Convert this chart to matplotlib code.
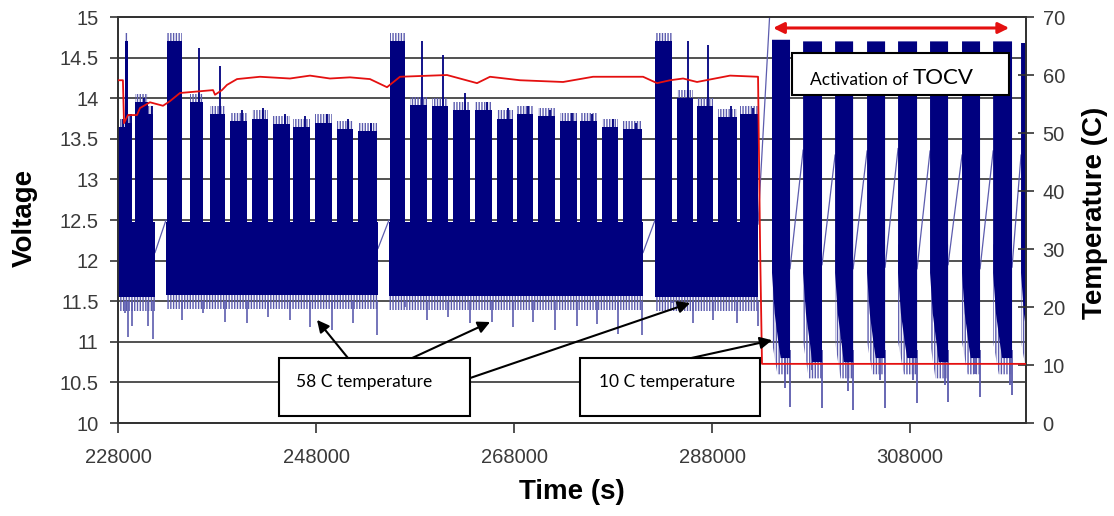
import numpy as np
import matplotlib
matplotlib.use('Agg')
import matplotlib.pyplot as plt
from matplotlib.patches import Rectangle
from matplotlib.ticker import FuncFormatter

plt.rcParams['font.family'] = ['Liberation Sans', 'DejaVu Sans']
plt.rcParams['hatch.linewidth'] = 1.0

# ---- 58 C part: logged sections (s) and the dense cycling band (V)
sec_start = [228000, 232850, 255370, 282240]
sec_end = [231740, 254260, 281030, 292640]
band_lo = [11.55, 11.58, 11.56, 11.55]
band_hi = [12.47, 12.47, 12.47, 12.47]

# charge "teeth" on top of the band
tooth_t0 = [228000, 228710, 229010, 229720, 231030,
            232950, 235270, 237290, 239310, 241530, 243660, 245680, 247900, 250120, 252240,
            255470, 257490, 259710, 261840, 264060, 266280, 268300, 270420, 272640, 274660, 276880, 279010,
            282240, 284460, 286480, 288600, 290820]
tooth_t1 = [228710, 229010, 229410, 231030, 231540,
            234460, 236590, 238810, 241030, 243150, 245370, 247390, 249610, 251740, 254160,
            256990, 259210, 261330, 263550, 265770, 267900, 269920, 272140, 274360, 276380, 278500, 280920,
            283950, 286080, 288100, 290520, 292640]
tooth_top = [13.65, 14.7, 13.7, 13.95, 13.8,
             14.7, 13.95, 13.8, 13.72, 13.75, 13.68, 13.65, 13.7, 13.62, 13.6,
             14.7, 13.92, 13.9, 13.85, 13.85, 13.75, 13.8, 13.78, 13.72, 13.72, 13.65, 13.62,
             14.7, 14.0, 13.9, 13.77, 13.8]
tooth_peak = [13.75, 14.7, 13.8, 14.0, 13.9,
              14.7, 14.62, 14.4, 13.85, 13.88, 13.8, 13.78, 13.8, 13.75, 13.7,
              14.7, 14.7, 14.53, 14.06, 13.95, 13.88, 13.9, 13.86, 13.82, 13.8, 13.75, 13.7,
              14.7, 14.7, 14.66, 13.9, 13.88]
tooth_low = [11.35, 11.06, 11.2, 11.2, 11.04,
             11.27, 11.35, 11.24, 11.23, 11.3, 11.27, 11.18, 11.15, 11.23, 11.08,
             11.43, 11.27, 11.3, 11.23, 11.25, 11.18, 11.24, 11.15, 11.2, 11.22, 11.1, 11.08,
             11.48, 11.23, 11.27, 11.23, 11.2]

# straight lines across logging gaps
gap_t0 = [231740, 254260, 281030, 292640]
gap_v0 = [12.1, 12.15, 12.1, 12.45]
gap_t1 = [232850, 255370, 282240, 293850]
gap_v1 = [12.5, 12.5, 12.5, 15.1]

# ---- 10 C part: TOCV cycles
cold_t0 = [294050, 297190, 300420, 303650, 306780, 310010, 313240, 316380, 319200]
cold_t1 = [295870, 299100, 302240, 305470, 308700, 311830, 315060, 318290, 321120]
cold_top = [14.72, 14.7, 14.7, 14.7, 14.7, 14.7, 14.7, 14.7, 14.68]
cold_floor = [10.8, 10.75, 10.75, 10.8, 10.8, 10.75, 10.8, 10.8, 10.8]
cold_spike_t = [295370, 295870, 298090, 299100, 301730, 302240, 304960, 305470,
                308290, 308700, 311530, 311830, 314560, 315060, 318090, 318290]
cold_spike_v = [10.43, 10.2, 10.65, 10.18, 10.4, 10.16, 10.53, 10.18,
                10.53, 10.25, 10.47, 10.26, 10.6, 10.32, 10.47, 10.34]
cold_ramp_lo = [11.9, 11.95, 11.9, 11.92, 11.9, 11.95, 11.9, 11.92]
cold_ramp_hi = [13.36, 13.3, 13.35, 13.38, 13.35, 13.3, 13.35, 13.3]

# ---- temperature (C)
temp_t = [228000, 228500, 228610, 229010, 229920, 230220, 231230, 232550, 233250, 234260,
          237600, 237800, 238500, 239010, 240020, 242340, 245370, 247390, 249410, 251430,
          253450, 255170, 256480, 261230, 264260, 265570, 268600, 272950, 275980, 281030,
          282440, 283750, 285070, 286480, 289810, 292640, 292850, 293040, 319700]
temp_v = [59.1, 59.1, 51.7, 53.1, 53.1, 54.3, 55.3, 54.7, 55.5, 56.9,
          57.4, 56.6, 57.4, 58.3, 59.3, 59.7, 59.4, 59.9, 59.4, 59.6,
          59.3, 57.9, 59.7, 60.0, 58.6, 59.7, 59.1, 58.8, 59.7, 59.7,
          58.6, 59.1, 59.4, 58.8, 59.9, 59.7, 30.0, 10.2, 10.2]

navy = '#00007f'
light = '#5c5cae'

fig = plt.figure(figsize=(11.14, 5.16), dpi=100)
ax = fig.add_axes([0.1059, 0.1802, 0.8151, 0.7868])
ax2 = ax.twinx()


def fringe(x, y1, y2):
    # comb of light spikes around the dense part of the trace
    ax.fill_between(x, y1, y2, facecolor='none', edgecolor=light, hatch='||||||',
                    lw=0, zorder=2)


# band + teeth
for s, e, lo, hi in zip(sec_start, sec_end, band_lo, band_hi):
    fringe([s, e], lo - 0.17, lo)
    ax.fill_between([s, e], lo, hi, color=navy, lw=0, zorder=3)

for t0, t1, top, pk, lo in zip(tooth_t0, tooth_t1, tooth_top, tooth_peak, tooth_low):
    fringe([t0, t1], top - 0.05, top + 0.1)
    ax.fill_between([t0, t1], 12.0, top, color=navy, lw=0, zorder=3)
    ax.vlines(t0 + 0.7 * (t1 - t0), top - 0.1, pk, color=navy, lw=1.3, zorder=3)
    ax.vlines(t1, 11.5, lo, color=light, lw=1.2, zorder=2)

for a, va, b, vb in zip(gap_t0, gap_v0, gap_t1, gap_v1):
    ax.plot([a, b], [va, vb], color=light, lw=0.9, zorder=2)

for t0, t1, top, fl in zip(cold_t0, cold_t1, cold_top, cold_floor):
    w = t1 - t0
    ax.fill([t0, t0, t0 + 0.3 * w, t1, t1],
            [12.2, 11.0, fl - 0.2, fl - 0.2, 12.2], facecolor='none',
            edgecolor=light, hatch='||||||', lw=0, zorder=2)
    ax.fill([t0, t1, t1, t0 + 0.48 * w, t0 + 0.38 * w, t0 + 0.15 * w, t0],
            [top, top, fl, fl, 10.95, 11.35, 11.85], color=navy, lw=0, zorder=3)
ax.vlines(cold_spike_t, 10.9, cold_spike_v, color=light, lw=1.3, zorder=2)
for i in range(len(cold_ramp_lo)):
    ax.plot([cold_t1[i], cold_t0[i + 1]], [cold_ramp_lo[i], cold_ramp_hi[i]],
            color=light, lw=0.9, zorder=2)

ax2.plot(temp_t, temp_v, color='#e41010', lw=1.3, zorder=5)

# axes styling
ax.set_xlim(228000, 319700)
ax.set_ylim(10, 15)
ax2.set_ylim(0, 70)
ax.set_xticks([228000, 248000, 268000, 288000, 308000])
ax.set_yticks(np.arange(10, 15.01, 0.5))
ax2.set_yticks(np.arange(0, 71, 10))
ax.xaxis.set_major_formatter(FuncFormatter(lambda v, p: f'{v:.0f}'))
ax.yaxis.set_major_formatter(FuncFormatter(lambda v, p: f'{v:g}'))
ax.yaxis.grid(True, color='#222222', lw=1.1)
ax.set_axisbelow(True)

for a in (ax, ax2):
    for sp in a.spines.values():
        sp.set_color('#333333')
        sp.set_linewidth(1.3)
ax.tick_params(axis='y', direction='out', length=6, width=1.2, pad=8,
               labelsize=14.5, labelcolor='#3a3a3a', color='#333333')
ax.tick_params(axis='x', direction='out', length=7, width=1.2, pad=11,
               labelsize=14.5, labelcolor='#3a3a3a', color='#333333')
ax2.tick_params(axis='y', direction='inout', length=12, width=1.2, pad=6,
                labelsize=14.5, labelcolor='#3a3a3a', color='#333333')

fig.text(25 / 1114, 1 - 218 / 516, 'Voltage', rotation=90, ha='center', va='center',
         fontsize=20, fontweight='bold')
fig.text(572 / 1114, 1 - 492 / 516, 'Time (s)', ha='center', va='center',
         fontsize=20, fontweight='bold')
fig.text(1095 / 1114, 1 - 213 / 516, 'Temperature (C)', rotation=90, ha='center',
         va='center', fontsize=20, fontweight='bold')

# annotations (placed in voltage coordinates, drawn above everything)
dt = ax.transData
for x0, x1, y0, y1 in [(244260, 263560, 10.09, 10.80), (274670, 292850, 10.09, 10.80),
                       (296080, 318000, 14.04, 14.56)]:
    ax2.add_patch(Rectangle((x0, y0), x1 - x0, y1 - y0, transform=dt, fc='white',
                            ec='black', lw=1.5, zorder=10))

arrow = dict(arrowstyle='-|>', color='black', lw=1.5, mutation_scale=18, shrinkA=0, shrinkB=0)
for tail, tip in [((251230, 10.80), (248100, 11.27)),
                  ((257700, 10.80), (265580, 11.244)),
                  ((263560, 10.554), (285780, 11.478)),
                  ((285880, 10.80), (294060, 11.02))]:
    ax2.annotate('', xy=tip, xytext=tail, xycoords=dt, textcoords=dt,
                 arrowprops=arrow, zorder=11)
ax2.annotate('', xy=(318000, 14.865), xytext=(294160, 14.865), xycoords=dt, textcoords=dt,
             arrowprops=dict(arrowstyle='<|-|>', color='#e41010', lw=2.2,
                             mutation_scale=16, shrinkA=0, shrinkB=0), zorder=11)

box_font = ['Lato', 'DejaVu Sans']
ax2.text(245980, 10.505, '58 C temperature', transform=dt, family=box_font,
         fontsize=12.5, va='center', zorder=12)
ax2.text(276580, 10.505, '10 C temperature', transform=dt, family=box_font,
         fontsize=12.5, va='center', zorder=12)
t1 = ax2.text(297890, 14.13, 'Activation of ', transform=dt, family=box_font,
              fontsize=12.5, va='bottom', zorder=12)
ax2.annotate('TOCV', xy=(1, 0), xycoords=t1, family=box_font, fontsize=16,
             va='bottom', ha='left', zorder=12)

fig.savefig('out.png', dpi=100)
